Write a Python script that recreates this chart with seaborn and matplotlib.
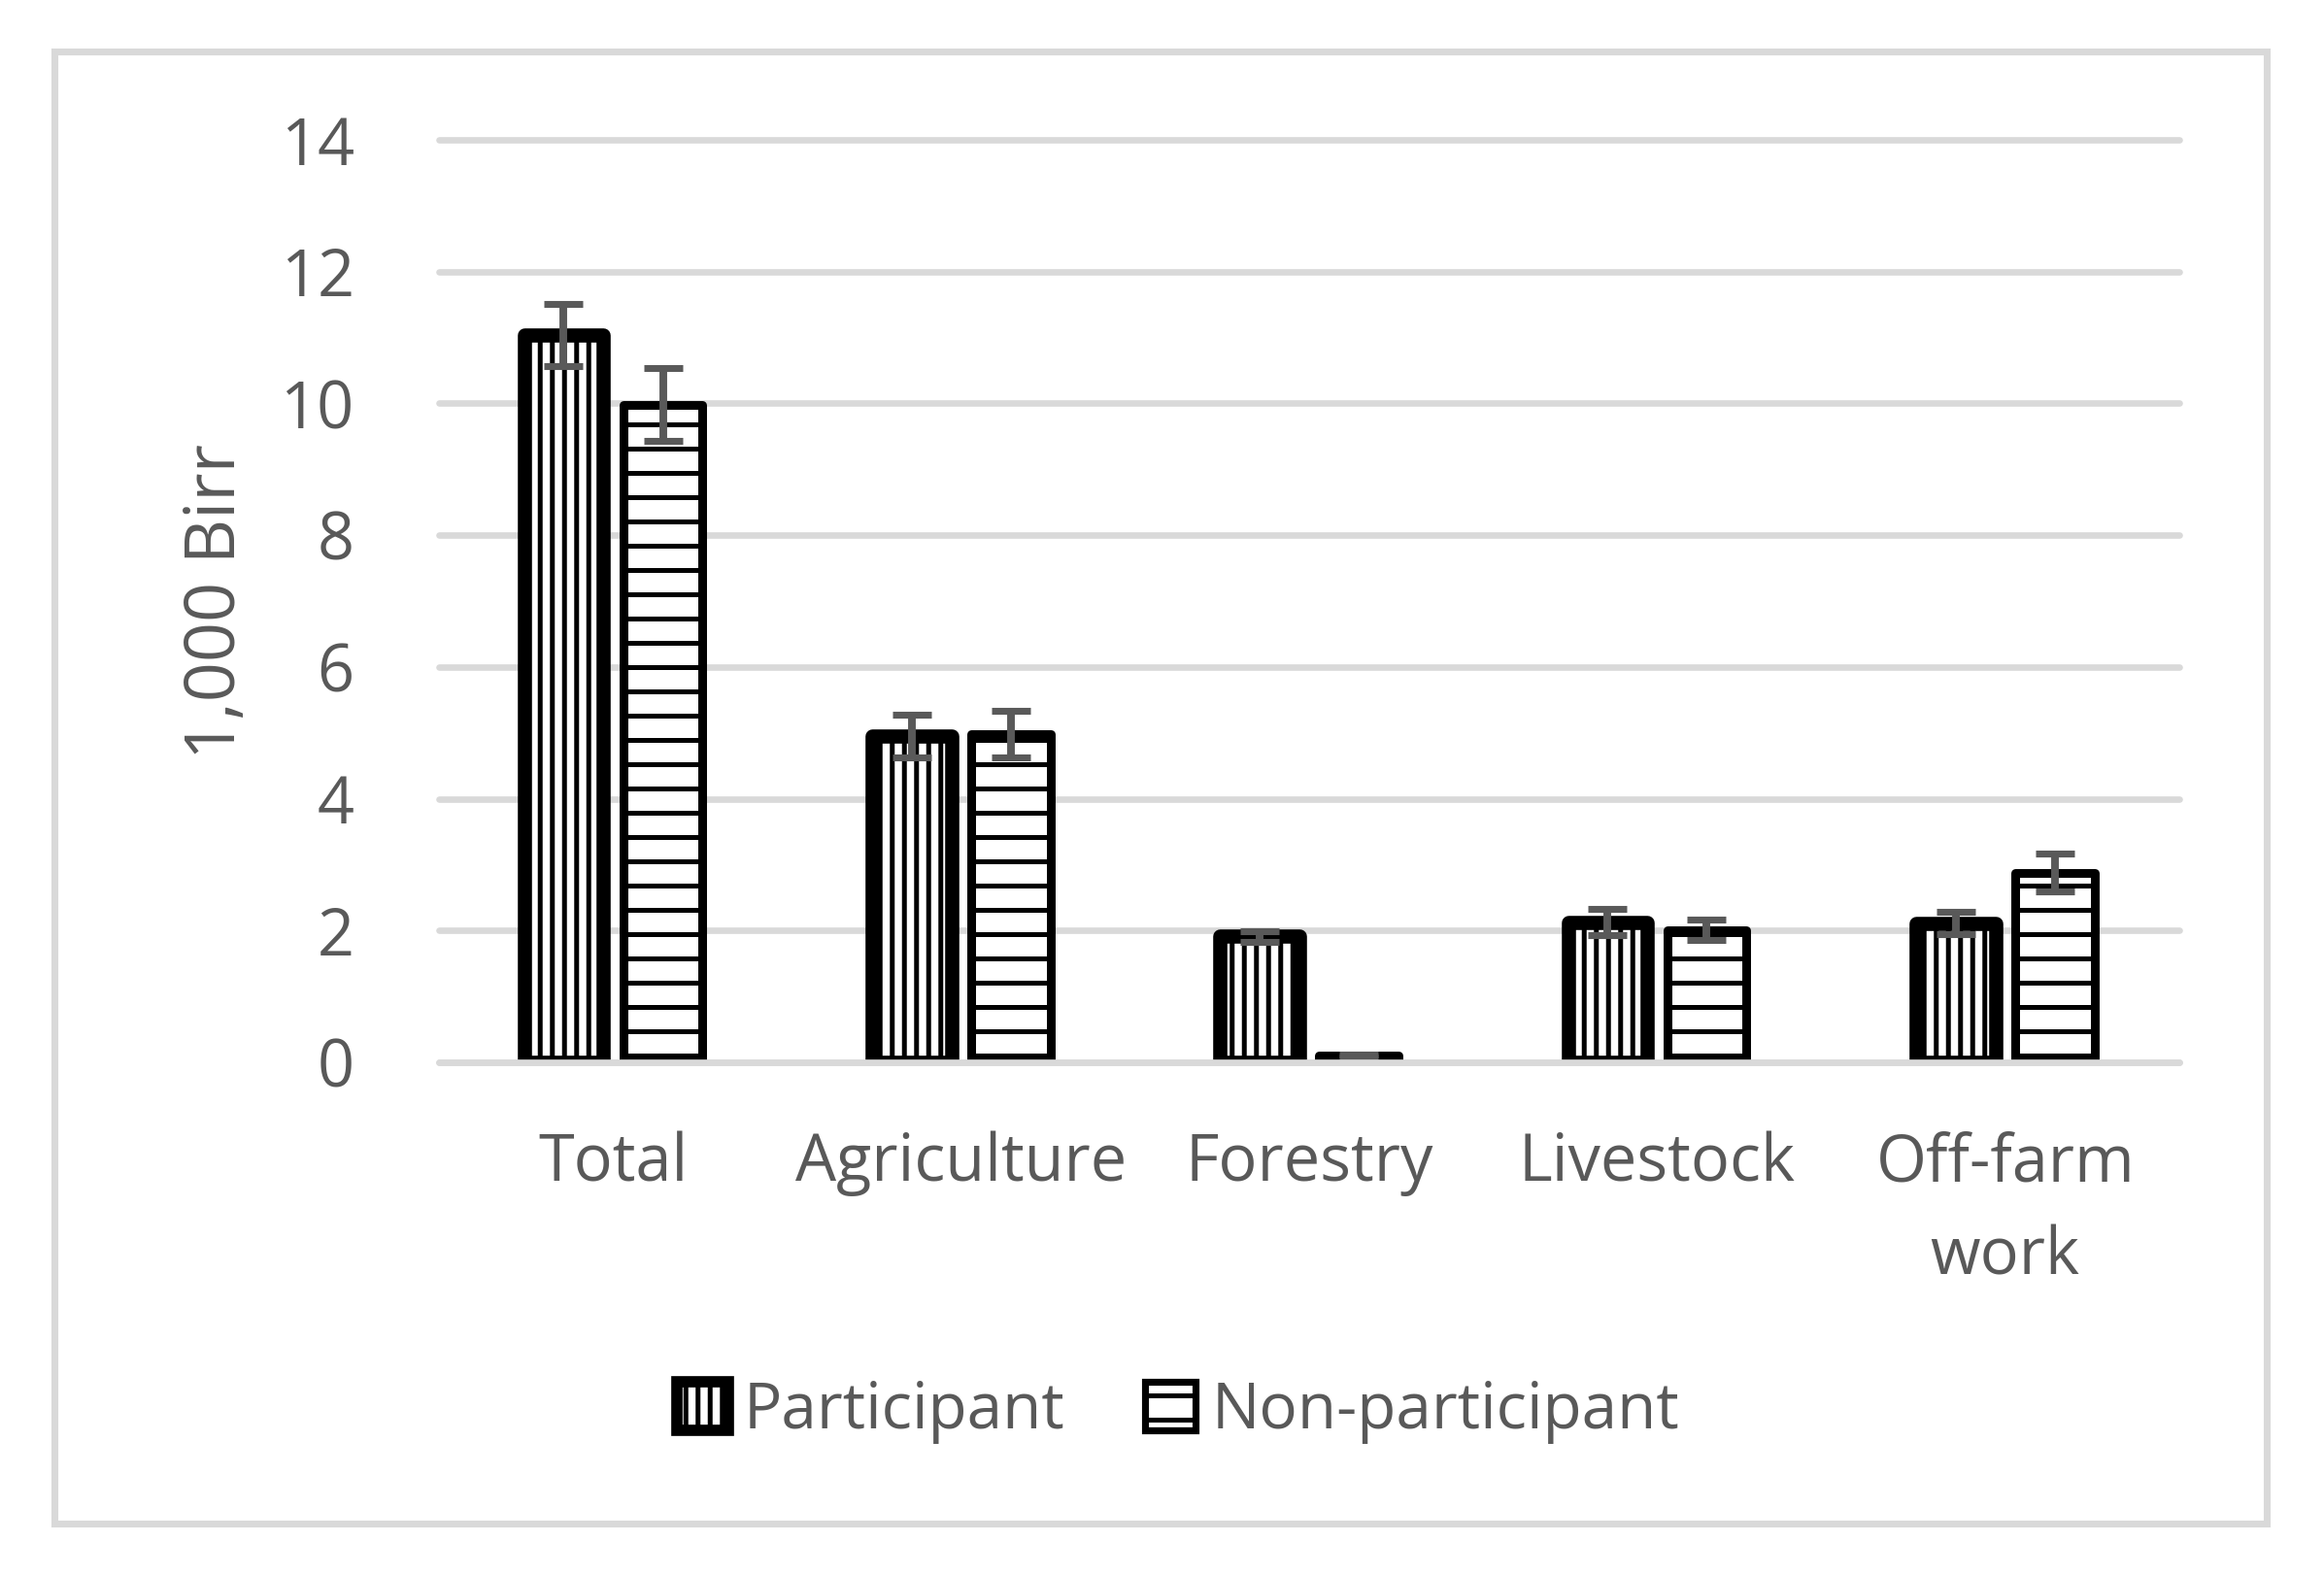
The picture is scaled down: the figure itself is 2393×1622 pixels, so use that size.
import matplotlib
matplotlib.use("Agg")
import matplotlib.pyplot as plt
import matplotlib.patches as mpatches
import pandas as pd
import seaborn as sns


CATEGORIES = ["Total", "Agriculture", "Forestry", "Livestock", "Off-farm\nwork"]
GROUPS = ["Participant", "Non-participant"]
PARTICIPANT = [11.04, 4.95, 1.91, 2.13, 2.11]
NON_PARTICIPANT = [9.98, 4.98, 0.10, 2.01, 2.88]
PARTICIPANT_ERR = [0.47, 0.32, 0.08, 0.20, 0.17]
NON_PARTICIPANT_ERR = [0.55, 0.35, 0.02, 0.15, 0.29]
Y_TICKS = [0, 2, 4, 6, 8, 10, 12, 14]

TEXT = "#595959"
GRID = "#d9d9d9"
HATCH = {"Participant": "||", "Non-participant": "-"}
EDGE_LW = {"Participant": 7.0, "Non-participant": 4.3}

sns.set_style("white")
plt.rcParams["font.family"] = ["Open Sans", "DejaVu Sans"]
plt.rcParams["hatch.linewidth"] = 2.4
plt.rcParams["hatch.color"] = "black"

df = pd.DataFrame({
    "category": CATEGORIES * 2,
    "group": [GROUPS[0]] * len(CATEGORIES) + [GROUPS[1]] * len(CATEGORIES),
    "value": PARTICIPANT + NON_PARTICIPANT,
})
errs = {GROUPS[0]: PARTICIPANT_ERR, GROUPS[1]: NON_PARTICIPANT_ERR}

fig = plt.figure(figsize=(2393 / 150, 1622 / 150), dpi=150)
ax = fig.add_axes([0.189, 0.3255, 0.7487, 0.5857])

sns.barplot(
    data=df, x="category", y="value", hue="group", order=CATEGORIES, hue_order=GROUPS,
    palette={g: "white" for g in GROUPS}, edgecolor="black", width=0.57, gap=0.2,
    errorbar=None, legend=False, ax=ax,
)

for cont, g in zip(ax.containers, GROUPS):
    xs, ys = [], []
    for p in cont.patches:
        p.set_hatch(HATCH[g])
        p.set_linewidth(EDGE_LW[g])
        p.set_joinstyle("round")
        p.set_zorder(3)
        xs.append(p.get_x() + p.get_width() / 2)
        ys.append(p.get_height())
    ax.errorbar(xs, ys, yerr=errs[g], fmt="none", ecolor=TEXT, elinewidth=3.8,
                capsize=9.4, capthick=3.4, zorder=4)

ax.set_xlim(-0.5, len(CATEGORIES) - 0.5)
ax.set_ylim(0, 14)
ax.set_yticks(Y_TICKS)
ax.yaxis.grid(True, color=GRID, linewidth=3.2)
ax.set_axisbelow(True)
for line in ax.get_ygridlines():
    line.set_clip_on(False)
ax.axhline(0, color=GRID, linewidth=3.2, zorder=5, clip_on=False)
sns.despine(ax=ax, left=True, bottom=True)

ax.tick_params(axis="y", length=0, pad=42, labelsize=32, labelcolor=TEXT)
ax.tick_params(axis="x", length=0, pad=34, labelsize=32, labelcolor=TEXT)
for lab in ax.get_xticklabels():
    lab.set_linespacing(1.55)

ax.set_xlabel("")
ax.set_ylabel("1,000 Birr", fontsize=34.5, color=TEXT)
ax.yaxis.set_label_coords(-0.108, 0.5)

handles = [
    mpatches.Patch(facecolor="white", edgecolor="black", hatch=HATCH[g],
                   linewidth=EDGE_LW[g] * 0.8, joinstyle="round", label=g)
    for g in GROUPS
]
leg = fig.legend(handles=handles, loc="center", bbox_to_anchor=(0.507, 0.1036), ncol=2,
                 frameon=False, fontsize=31.5, handlelength=0.8, handleheight=0.8,
                 handletextpad=0.25, columnspacing=1.25)
for t in leg.get_texts():
    t.set_color(TEXT)

fig.patches.append(mpatches.Rectangle((0.0236, 0.0327), 0.9517, 0.9346, transform=fig.transFigure,
                                      fill=False, edgecolor=GRID, linewidth=3.4))

fig.savefig("out.png", dpi=150)
